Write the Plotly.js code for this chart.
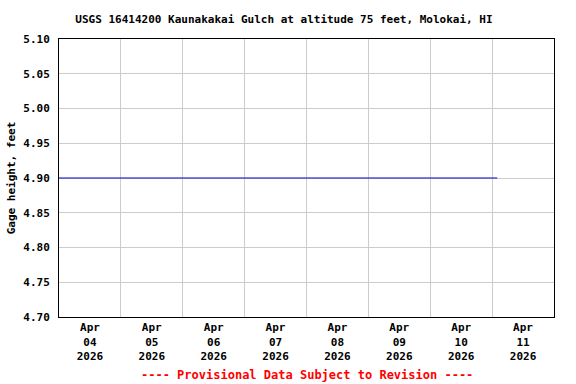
<!DOCTYPE html>
<html>
<head>
<meta charset="utf-8">
<script src="https://cdn.plot.ly/plotly-3.0.1.min.js"></script>
<style>html,body{margin:0;padding:0;background:#fff;}#chart{width:576px;height:384px;}</style>
</head>
<body>
<div id="chart"></div>
<script>
// Data
const times = ["2026-04-04 00:00", "2026-04-05 00:00", "2026-04-06 00:00", "2026-04-07 00:00", "2026-04-08 00:00", "2026-04-09 00:00", "2026-04-10 00:00", "2026-04-11 00:00", "2026-04-11 02:00"];
const gageHeight = [4.90, 4.90, 4.90, 4.90, 4.90, 4.90, 4.90, 4.90, 4.90];
const dayStarts = ["2026-04-04", "2026-04-05", "2026-04-06", "2026-04-07", "2026-04-08", "2026-04-09", "2026-04-10", "2026-04-11", "2026-04-12"];
const labelTimes = ["2026-04-04 12:00", "2026-04-05 12:00", "2026-04-06 12:00", "2026-04-07 12:00", "2026-04-08 12:00", "2026-04-09 12:00", "2026-04-10 12:00", "2026-04-11 12:00"];
const tickLabels = ["Apr<br>04<br>2026", "Apr<br>05<br>2026", "Apr<br>06<br>2026", "Apr<br>07<br>2026", "Apr<br>08<br>2026", "Apr<br>09<br>2026", "Apr<br>10<br>2026", "Apr<br>11<br>2026"];
const yTicks = [4.70, 4.75, 4.80, 4.85, 4.90, 4.95, 5.00, 5.05, 5.10];

const FONT = "DejaVu Sans Mono, Liberation Mono, monospace";

const trace = {
  x: times,
  y: gageHeight,
  type: "scatter",
  mode: "lines",
  line: {color: "#0000cc", width: 1.2},
  hoverinfo: "skip"
};

const layout = {
  width: 576,
  height: 384,
  margin: {l: 59, r: 22, t: 39, b: 67},
  paper_bgcolor: "#ffffff",
  plot_bgcolor: "#ffffff",
  showlegend: false,
  font: {family: FONT, size: 11, color: "#000"},
  title: {
    text: "<b>USGS 16414200 Kaunakakai Gulch at altitude 75 feet, Molokai, HI</b>",
    font: {family: FONT, size: 11, color: "#000"},
    xref: "container", x: 0.493, xanchor: "center",
    yref: "container", y: 1 - 19/384, yanchor: "middle"
  },
  xaxis: {
    type: "date",
    range: [dayStarts[0], dayStarts[dayStarts.length - 1]],
    tickmode: "array",
    tickvals: labelTimes,
    ticktext: tickLabels.map(t => "<b>" + t + "</b>"),
    ticks: "",
    showgrid: false,
    minor: {tickmode: "array", tickvals: dayStarts, showgrid: true, gridcolor: "#cccccc", gridwidth: 1, ticks: ""},
    showline: true, linecolor: "#000", linewidth: 1, mirror: true,
    zeroline: false,
    tickfont: {family: FONT, size: 11, color: "#000"},
    fixedrange: true
  },
  yaxis: {
    range: [4.70, 5.10],
    tickmode: "array",
    tickvals: yTicks,
    ticktext: yTicks.map(v => "<b>" + v.toFixed(2) + "</b>"),
    ticks: "",
    ticklabelstandoff: 6,
    showgrid: true, gridcolor: "#cccccc", gridwidth: 1,
    showline: true, linecolor: "#000", linewidth: 1, mirror: true,
    zeroline: false,
    tickfont: {family: FONT, size: 11, color: "#000"},
    title: {text: "<b>Gage height, feet</b>", font: {family: FONT, size: 11, color: "#000"}, standoff: 5},
    fixedrange: true
  },
  annotations: [{
    text: "<b>---- Provisional Data Subject to Revision ----</b>",
    xref: "paper", x: 0.5, xanchor: "center",
    yref: "paper", y: (317 - 375) / 278, yanchor: "middle",
    showarrow: false,
    font: {family: FONT, size: 12, color: "#ff0000"}
  }]
};

Plotly.newPlot("chart", [trace], layout, {staticPlot: true, displayModeBar: false});
</script>
</body>
</html>
